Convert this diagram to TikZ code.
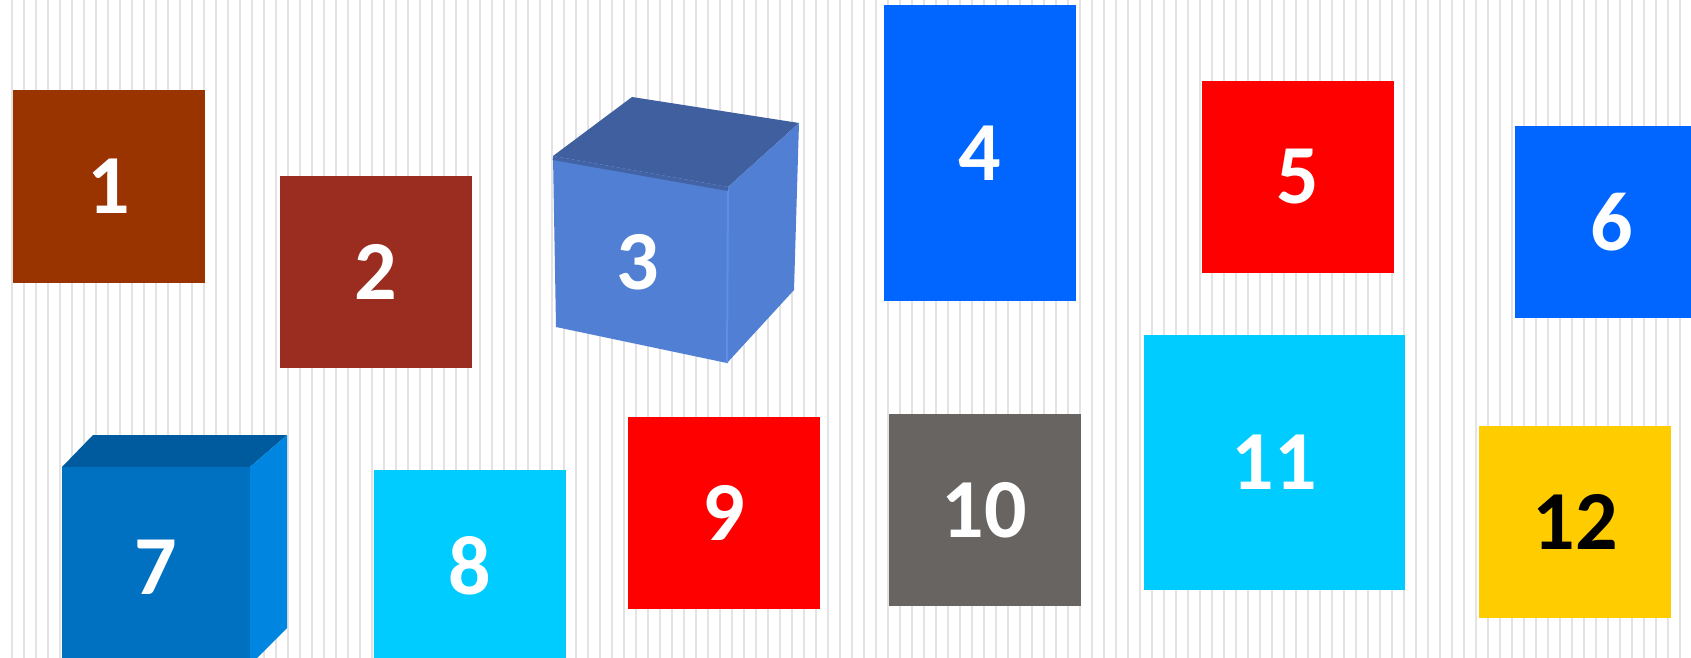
\documentclass[tikz,border=0pt]{standalone}
\usepackage{fontspec}
\setmainfont{Carlito}
\usepackage{tikz}
\usetikzlibrary{positioning,calc}

\definecolor{rust}{HTML}{993300}
\definecolor{brick}{HTML}{9A2C20}
\definecolor{azure}{HTML}{0066FF}
\definecolor{pure red}{HTML}{FF0000}
\definecolor{skyblue}{HTML}{00CCFF}
\definecolor{slate}{HTML}{686462}
\definecolor{gold}{HTML}{FFCC00}
\definecolor{cubefront}{HTML}{517FD3}
\definecolor{cubetop}{HTML}{3F5F9E}
\definecolor{cubeedge}{HTML}{5E8EEA}
\definecolor{boxfront}{HTML}{0070C0}
\definecolor{boxtop}{HTML}{005A9E}
\definecolor{boxside}{HTML}{0085E0}

\begin{document}
\begin{tikzpicture}[
    x=0.5pt, y=-0.5pt,
    every node/.style={font=\fontsize{42}{50}\selectfont\bfseries, text=white},
    tile/.style={rectangle, inner sep=0pt, minimum width=96pt, minimum height=96pt},
    stripe/.style={draw=black!11, line width=1pt}
]

% ============ BACKGROUND ============
\useasboundingbox (0,0) rectangle (1691,658);
\clip (0,0) rectangle (1691,658);
\fill[white] (0,0) rectangle (1691,658);
\foreach \i in {0,...,140}
    \draw[stripe] ({11.7+12*\i},0) -- ++(0,658);

% ============ TOP ROW ============
\node[tile, fill=rust] (b1) at (108.5,186.5) {1};
\node[tile, fill=brick] (b2) at (375.5,271.5) {2};

% Cube 3
\fill[cubetop] (553,156) -- (632,97) -- (799,123) -- (728,187) -- cycle;
\fill[cubefront] (553,156) -- (728,187) -- (727,363) -- (556,327) -- cycle;
\fill[cubefront] (728,187) -- (799,123) -- (794,290) -- (727,363) -- cycle;
\draw[cubeedge, line width=1pt] (728,187) -- (727,363);
\draw[cubetop!85!cubefront, line width=2pt] (553,158) -- (728,189);
\node (b3) at (638,262) {3};

\node[tile, fill=azure, minimum height=148pt] (b4) at (980,153) {4};
\node[tile, fill=pure red] (b5) at (1298,177) {5};
\node[tile, fill=azure, minimum width=97pt] (b6) at (1612,222) {6};

% ============ BOTTOM ROW ============
% Cube 7
\fill[boxtop] (62,467) -- (93,435) -- (287,435) -- (250,467) -- cycle;
\fill[boxside] (250,467) -- (287,435) -- (287,628) -- (250,665) -- cycle;
\fill[boxfront] (62,467) rectangle (250,670);
\node (b7) at (156,567) {7};

\node[tile, fill=skyblue] (b8) at (469.5,565.5) {8};
\node[tile, fill=pure red] (b9) at (724,513) {9};
\node[tile, fill=slate] (b10) at (984.5,510) {10};
\node[tile, fill=skyblue, minimum width=130.5pt, minimum height=127.5pt] (b11) at (1274.5,462.5) {11};
\node[tile, fill=gold, text=black] (b12) at (1575,522) {12};

\end{tikzpicture}
\end{document}
